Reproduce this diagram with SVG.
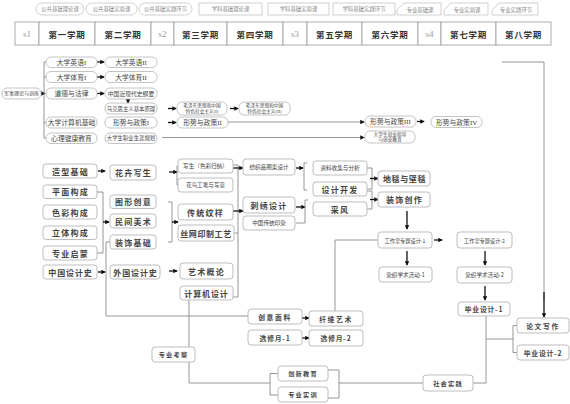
<svg xmlns="http://www.w3.org/2000/svg" width="570" height="404" viewBox="0 0 570 404">
<defs>
<marker id="ah" viewBox="0 0 6 6" refX="5" refY="3" markerWidth="4.5" markerHeight="4.5" orient="auto" markerUnits="userSpaceOnUse"><path d="M0,0 L6,3 L0,6 z" fill="#111"/></marker>
<style>
.p{fill:#fff;stroke:#b5b5b5;stroke-width:0.8}
.n{fill:#fff;stroke:#bdbdbd;stroke-width:1}
.lg{fill:#fff;stroke:#c4c4c4;stroke-width:0.8}
.hd{fill:#fff;stroke:#9a9a9a;stroke-width:0.8}
text{text-anchor:middle;dominant-baseline:central;fill:#333}
.ts{font-family:"Liberation Serif","Noto Sans CJK SC",serif;font-size:6.8px;fill:#444}
.tss{font-family:"Liberation Serif","Noto Sans CJK SC",serif;font-size:5.4px;fill:#444}
.tl{font-family:"Noto Sans CJK SC",sans-serif;font-size:5.4px;fill:#888}
.th{font-family:"Noto Sans CJK SC",sans-serif;font-size:8.5px;font-weight:bold;fill:#333;letter-spacing:0.8px}
.ths{font-family:"Liberation Serif",serif;font-size:9px;fill:#999}
.tb{font-family:"Noto Sans CJK SC",sans-serif;font-size:8px;font-weight:bold;fill:#444;letter-spacing:1.3px}
.tm{font-family:"Noto Sans CJK SC",sans-serif;font-size:6.8px;font-weight:bold;fill:#444;letter-spacing:0.8px}
.tsm{font-family:"Noto Sans CJK SC",sans-serif;font-size:5.6px;fill:#444}
.ar{stroke:#111;stroke-width:1.3;fill:none;marker-end:url(#ah)}
.ln{stroke:#8a8a8a;stroke-width:0.9;fill:none}
.la{stroke:#8a8a8a;stroke-width:0.9;fill:none;marker-end:url(#ah)}
</style>
</defs>

<!-- legend -->
<g id="legend">
<rect class="lg" x="36" y="3" width="48" height="12" rx="6"/><text class="tl" x="60" y="9">公共基础理论课</text>
<rect class="lg" x="86" y="3" width="51" height="12" rx="6"/><text class="tl" x="111.5" y="9">公共基础实验课</text>
<rect class="lg" x="139" y="3" width="53" height="12" rx="6"/><text class="tl" x="165.5" y="9">公共基础实践环节</text>
<rect class="lg" x="199" y="3" width="63" height="12"/><text class="tl" x="230.5" y="9">学科基础理论课</text>
<rect class="lg" x="268" y="3" width="61" height="12"/><text class="tl" x="298.5" y="9">学科基础实验课</text>
<rect class="lg" x="333" y="3" width="62" height="12"/><text class="tl" x="364" y="9">学科基础实践环节</text>
<path class="lg" d="M397,15 V10 L404,3 H441 V15 Z"/><text class="tl" x="420" y="9.5">专业基础课</text>
<path class="lg" d="M444,15 V10 L451,3 H488 V15 Z"/><text class="tl" x="467" y="9.5">专业实验课</text>
<path class="lg" d="M492,15 V10 L499,3 H538 V15 Z"/><text class="tl" x="516" y="9.5">专业实践环节</text>
</g>

<!-- header -->
<g id="header">
<rect class="hd" x="15" y="22" width="24" height="23"/><text class="ths" x="27" y="33.5">s1</text>
<rect class="hd" x="39" y="22" width="56" height="23"/><text class="th" x="67" y="33.5">第一学期</text>
<rect class="hd" x="95" y="22" width="56" height="23"/><text class="th" x="123" y="33.5">第二学期</text>
<rect class="hd" x="151" y="22" width="23" height="23"/><text class="ths" x="162.5" y="33.5">s2</text>
<rect class="hd" x="174" y="22" width="53" height="23"/><text class="th" x="200.5" y="33.5">第三学期</text>
<rect class="hd" x="227" y="22" width="56" height="23"/><text class="th" x="255" y="33.5">第四学期</text>
<rect class="hd" x="283" y="22" width="24" height="23"/><text class="ths" x="295" y="33.5">s3</text>
<rect class="hd" x="307" y="22" width="55" height="23"/><text class="th" x="334.5" y="33.5">第五学期</text>
<rect class="hd" x="362" y="22" width="56" height="23"/><text class="th" x="390" y="33.5">第六学期</text>
<rect class="hd" x="418" y="22" width="23" height="23"/><text class="ths" x="429.5" y="33.5">s4</text>
<rect class="hd" x="441" y="22" width="55" height="23"/><text class="th" x="468.5" y="33.5">第七学期</text>
<rect class="hd" x="496" y="22" width="55" height="23"/><text class="th" x="523.5" y="33.5">第八学期</text>
</g>

<!-- connectors -->
<g id="connectors">
<line class="ar" x1="40" y1="93.5" x2="45" y2="93.5"/>
<path class="ln" d="M47,62 H44 V138 H47 M44,77 H47 M44,122.5 H47"/>
<line class="ar" x1="97" y1="62" x2="104" y2="62"/>
<line class="ar" x1="97" y1="77" x2="104" y2="77"/>
<line class="ar" x1="97" y1="93.5" x2="104" y2="93.5"/>
<line class="ar" x1="128" y1="98.5" x2="128" y2="103"/>
<line class="ar" x1="168" y1="108.5" x2="176" y2="108.5"/>
<line class="ar" x1="230" y1="108.5" x2="238" y2="108.5"/>
<line class="ar" x1="168" y1="122.5" x2="176" y2="122.5"/>
<line class="la" x1="228" y1="122" x2="364" y2="122"/>
<line class="ar" x1="417" y1="121.5" x2="424" y2="121.5"/>
<line class="la" x1="162" y1="137.5" x2="364" y2="137.5"/>
<polyline class="ln" points="502,62 544,62 544,300"/>
<line class="ar" x1="544" y1="292" x2="544" y2="317"/>
<line class="ar" x1="98" y1="171" x2="105" y2="171"/>
<path class="ln" d="M97,192 H103 V253 H97"/>
<line class="ar" x1="103" y1="222" x2="109" y2="222"/>
<line class="ar" x1="98" y1="272" x2="105" y2="272"/>
<line class="ar" x1="169" y1="172" x2="177" y2="172"/>
<path class="ln" d="M180,166 H177 V185 H180"/>
<path class="ln" d="M168,202 H172 V242 H168"/>
<line class="ar" x1="172" y1="222" x2="178" y2="222"/>
<line class="ar" x1="169" y1="271" x2="177" y2="271"/>
<path class="ln" d="M233,165 H238 V297 H233 M234,233 H238"/>
<line class="ar" x1="233" y1="168" x2="243" y2="168"/>
<line class="ar" x1="233" y1="211" x2="243" y2="211"/>
<line class="ar" x1="296" y1="168" x2="303" y2="168"/>
<path class="ln" d="M307,163 H304 V190 H307"/>
<line class="ar" x1="296" y1="207" x2="305" y2="207"/>
<path class="ln" d="M296,223 H305 V200 H308"/>
<path class="ln" d="M367,168 H372 V189 H367 M367,191 H372 V209 H367"/>
<line class="ar" x1="370" y1="178.5" x2="378" y2="178.5"/>
<line class="ar" x1="370" y1="199.5" x2="378" y2="199.5"/>
<line class="ar" x1="407" y1="211" x2="407" y2="229"/>
<line class="ar" x1="434" y1="240" x2="442" y2="240"/>
<line class="ar" x1="407" y1="251" x2="407" y2="265"/>
<line class="ar" x1="485" y1="251" x2="485" y2="265"/>
<line class="ar" x1="485" y1="286" x2="485" y2="300"/>
<polyline class="ln" points="378,240 335,240 335,311"/>
<polyline class="ln" points="110,242 106,242 106,316 248,316"/>
<line class="ar" x1="302" y1="318" x2="309" y2="318"/>
<line class="ar" x1="302" y1="338" x2="309" y2="338"/>
<line class="ln" x1="189" y1="300" x2="189" y2="347"/>
<polyline class="ln" points="189,362 189,383 270,383"/>
<path class="ln" d="M278,373.5 H270 V395 H278"/>
<path class="ln" d="M328,370 H339 V398 H328"/>
<line class="ln" x1="339" y1="383" x2="423" y2="383"/>
<polyline class="ln" points="473,383 486,383 486,316"/>
<line class="ln" x1="486" y1="339" x2="513" y2="339"/>
<path class="ln" d="M517,325.5 H513 V352.5 H517"/>
</g>

<!-- section 1 nodes -->
<g id="n_root"><rect class="p" x="2" y="88" width="39" height="11" rx="5"/><text class="tss" x="21.5" y="93.5" style="font-size:5px">军事理论与训练</text></g>
<g id="n_en1"><rect class="p" x="46" y="57" width="51" height="10.5" rx="5"/><text class="ts" x="71.5" y="62.3">大学英语I</text></g>
<g id="n_pe1"><rect class="p" x="46" y="71.5" width="51" height="11" rx="5"/><text class="ts" x="71.5" y="77">大学体育I</text></g>
<g id="n_law"><rect class="p" x="46" y="88" width="51" height="11" rx="5"/><text class="ts" x="71.5" y="93.5">道德与法律</text></g>
<g id="n_cs"><rect class="p" x="46" y="117" width="51" height="11" rx="5"/><text class="ts" x="71.5" y="122.5">大学计算机基础</text></g>
<g id="n_psy"><rect class="p" x="46" y="133" width="51" height="10.5" rx="5"/><text class="ts" x="71.5" y="138.3">心理健康教育</text></g>
<g id="n_en2"><rect class="p" x="105" y="57" width="52" height="10.5" rx="5"/><text class="ts" x="131" y="62.3">大学英语II</text></g>
<g id="n_pe2"><rect class="p" x="105" y="71.5" width="52" height="11" rx="5"/><text class="ts" x="131" y="77">大学体育II</text></g>
<g id="n_hist"><rect class="p" x="105" y="88" width="52" height="11" rx="5"/><text class="tss" x="131" y="93.5" style="font-size:5.8px">中国近现代史纲要</text></g>
<g id="n_marx"><rect class="p" x="105" y="103" width="52" height="11" rx="5"/><text class="tss" x="131" y="108.5">马克思主义基本原理</text></g>
<g id="n_pol1"><rect class="p" x="105" y="117" width="52" height="11" rx="5"/><text class="ts" x="131" y="122.5">形势与政策I</text></g>
<g id="n_car"><rect class="p" x="105" y="133" width="52" height="10.5" rx="5"/><text class="tss" x="131" y="138.3">大学生职业生涯规划</text></g>
<g id="n_mao1"><rect class="p" x="177" y="102" width="50" height="13" rx="5"/><text class="tss" x="202" y="105.7" style="font-size:4.7px">毛泽东思想和中国</text><text class="tss" x="202" y="111.2" style="font-size:4.7px">特色社会主义(I)</text></g>
<g id="n_mao2"><rect class="p" x="239" y="102" width="51" height="13" rx="5"/><text class="tss" x="264.5" y="105.7" style="font-size:4.7px">毛泽东思想和中国</text><text class="tss" x="264.5" y="111.2" style="font-size:4.7px">特色社会主义(II)</text></g>
<g id="n_pol2"><rect class="p" x="177" y="117" width="51" height="11" rx="5"/><text class="ts" x="202.5" y="122.5">形势与政策II</text></g>
<g id="n_pol3"><rect class="p" x="365" y="116" width="51" height="11" rx="5"/><text class="ts" x="390.5" y="121.5">形势与政策III</text></g>
<g id="n_pol4"><rect class="p" x="431" y="116.5" width="51" height="11" rx="5"/><text class="ts" x="456.5" y="122">形势与政策IV</text></g>
<g id="n_job"><rect class="p" x="365" y="131" width="50" height="12" rx="5"/><text class="tss" x="390" y="134.5" style="font-size:4.7px">大学生就业指导</text><text class="tss" x="390" y="139.7" style="font-size:4.7px">与创业教育</text></g>

<!-- section 2 nodes -->
<g id="n_zx"><rect class="n" x="43" y="164" width="54" height="14" rx="3"/><text class="tb" x="70.5" y="171">造型基础</text></g>
<g id="n_pm"><rect class="n" x="43" y="185" width="54" height="13.5" rx="3"/><text class="tb" x="70.5" y="191.8">平面构成</text></g>
<g id="n_sc"><rect class="n" x="43" y="205" width="54" height="14" rx="3"/><text class="tb" x="70.5" y="212">色彩构成</text></g>
<g id="n_lt"><rect class="n" x="43" y="226" width="54" height="13.5" rx="3"/><text class="tb" x="70.5" y="232.8">立体构成</text></g>
<g id="n_zyqm"><rect class="n" x="43" y="246" width="54" height="14" rx="3"/><text class="tb" x="70.5" y="253">专业启蒙</text></g>
<g id="n_zgs"><rect class="n" x="43" y="265" width="54" height="14" rx="3"/><text class="tb" x="70.5" y="272" style="letter-spacing:0.9px">中国设计史</text></g>
<g id="n_hh"><rect class="n" x="110" y="165" width="46" height="15" rx="3"/><text class="tb" x="133.5" y="172.5">花卉写生</text></g>
<g id="n_tx"><rect class="n" x="110" y="195" width="46" height="13.5" rx="3"/><text class="tb" x="133.5" y="201.8">图形创意</text></g>
<g id="n_mj"><rect class="n" x="110" y="214" width="46" height="14" rx="3"/><text class="tb" x="133.5" y="221">民间美术</text></g>
<g id="n_zs"><rect class="n" x="110" y="235" width="46" height="14" rx="3"/><text class="tb" x="133.5" y="242">装饰基础</text></g>
<g id="n_wgs"><rect class="n" x="110" y="265" width="50" height="14" rx="3"/><text class="tb" x="135.5" y="272" style="letter-spacing:0.9px">外国设计史</text></g>
<g id="n_xs"><rect class="n" x="178" y="159" width="55" height="14" rx="3"/><text class="tsm" x="205.5" y="166">写生（色彩归纳）</text></g>
<g id="n_hn"><rect class="n" x="178" y="178" width="55" height="14" rx="3"/><text class="tsm" x="205.5" y="185">花鸟工笔与写意</text></g>
<g id="n_ctwy"><rect class="n" x="178" y="204" width="55" height="16" rx="3"/><text class="tb" x="205.5" y="212">传统纹样</text></g>
<g id="n_sw"><rect class="n" x="178" y="225" width="56" height="16" rx="3"/><text class="tb" x="206" y="233" style="letter-spacing:0.6px">丝网印制工艺</text></g>
<g id="n_ysgl"><rect class="n" x="180" y="263" width="53" height="16" rx="3"/><text class="tb" x="206.5" y="271">艺术概论</text></g>
<g id="n_jsj"><rect class="n" x="180" y="286" width="53" height="14" rx="3"/><text class="tb" x="206.5" y="293" style="letter-spacing:0.9px">计算机设计</text></g>
<g id="n_fz"><rect class="n" x="243" y="159" width="52" height="16" rx="3"/><text class="tsm" x="269" y="167">纺织品图案设计</text></g>
<g id="n_cx"><rect class="n" x="243" y="197" width="52" height="16" rx="3"/><text class="tb" x="269" y="205">刺绣设计</text></g>
<g id="n_ry"><rect class="n" x="243" y="216" width="52" height="14" rx="3"/><text class="tsm" x="269" y="223">中国传统印染</text></g>
<g id="n_zl"><rect class="n" x="313" y="161" width="54" height="14" rx="3"/><text class="tsm" x="340" y="168">资料收集与分析</text></g>
<g id="n_sjkf"><rect class="n" x="313" y="182" width="54" height="14" rx="3"/><text class="tb" x="340" y="189">设计开发</text></g>
<g id="n_cf"><rect class="n" x="313" y="202" width="54" height="14" rx="3"/><text class="tb" x="340" y="209">采风</text></g>
<g id="n_dt"><rect class="n" x="378" y="171" width="52" height="15" rx="3"/><text class="tb" x="404.5" y="178.5" style="letter-spacing:0.6px">地毯与壁毯</text></g>
<g id="n_zscz"><rect class="n" x="378" y="192" width="52" height="15" rx="3"/><text class="tb" x="404.5" y="199.5">装饰创作</text></g>
<g id="n_gzs1"><rect class="n" x="378" y="232" width="54" height="16" rx="3"/><text class="tsm" x="405" y="240" style="font-size:5.2px">工作室专题设计-1</text></g>
<g id="n_gzs2"><rect class="n" x="457" y="232" width="55" height="16" rx="3"/><text class="tsm" x="484.5" y="240" style="font-size:5.2px">工作室专题设计-2</text></g>
<g id="n_rz1"><rect class="n" x="379" y="267" width="53" height="15" rx="3"/><text class="tsm" x="405.5" y="274.5">染织学术活动-1</text></g>
<g id="n_rz2"><rect class="n" x="457" y="267" width="55" height="16" rx="3"/><text class="tsm" x="484.5" y="275">染织学术活动-2</text></g>
<g id="n_by1"><rect class="n" x="458" y="302" width="52" height="14" rx="3"/><text class="tm" x="484" y="309">毕业设计-1</text></g>
<g id="n_cy"><rect class="n" x="248" y="309" width="54" height="15" rx="3"/><text class="tm" x="275" y="316.5" style="letter-spacing:1.6px">创意面料</text></g>
<g id="n_xw"><rect class="n" x="309" y="311" width="54" height="15" rx="3"/><text class="tm" x="336" y="318.5" style="letter-spacing:1.6px">纤维艺术</text></g>
<g id="n_xx1"><rect class="n" x="248" y="330" width="54" height="15" rx="3"/><text class="tm" x="275" y="337.5">选修月-1</text></g>
<g id="n_xx2"><rect class="n" x="309" y="330" width="54" height="16" rx="3"/><text class="tm" x="336" y="338">选修月-2</text></g>
<g id="n_zykc"><rect class="n" x="152" y="347" width="43" height="15" rx="3"/><text class="tm" x="173.5" y="354.5" style="font-size:6.2px;letter-spacing:1.2px">专业考察</text></g>
<g id="n_cxjy"><rect class="n" x="278" y="366" width="50" height="15" rx="3"/><text class="tm" x="303" y="373.5" style="font-size:6.2px;letter-spacing:1.2px">创新教育</text></g>
<g id="n_zysx"><rect class="n" x="278" y="387" width="50" height="15" rx="3"/><text class="tm" x="303" y="394.5" style="font-size:6.2px;letter-spacing:1.2px">专业实训</text></g>
<g id="n_shsj"><rect class="n" x="423" y="375" width="50" height="16" rx="3"/><text class="tm" x="448" y="383" style="font-size:6.2px;letter-spacing:1.2px">社会实践</text></g>
<g id="n_lw"><rect class="n" x="517" y="318" width="52" height="15" rx="3"/><text class="tm" x="543" y="325.5" style="letter-spacing:1.6px">论文写作</text></g>
<g id="n_by2"><rect class="n" x="517" y="345" width="52" height="15" rx="3"/><text class="tm" x="543" y="352.5">毕业设计-2</text></g>
</svg>
